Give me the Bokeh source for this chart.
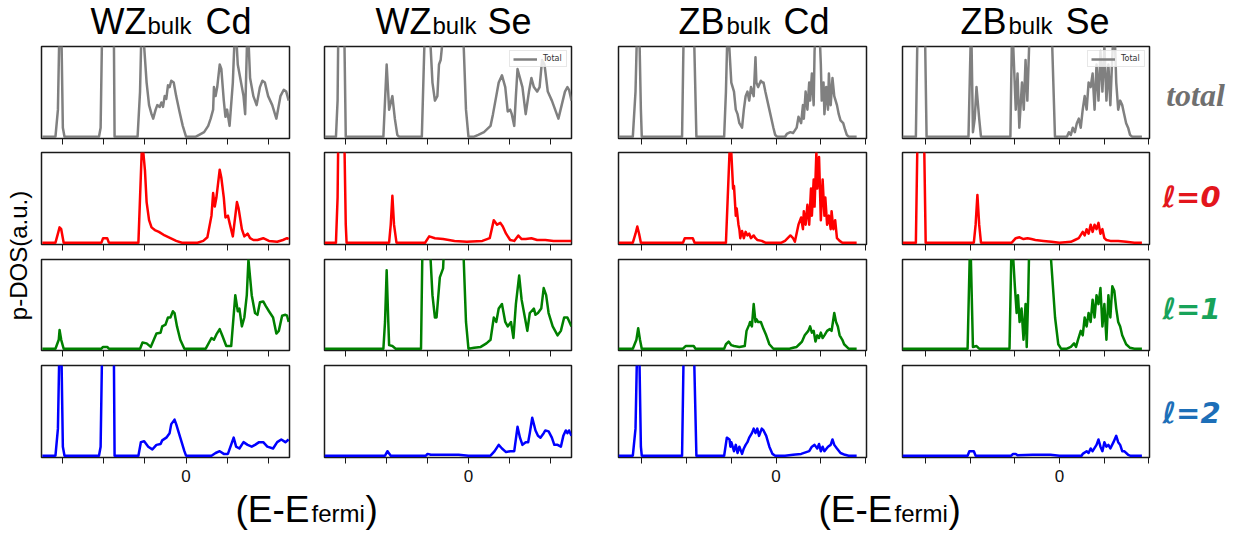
import math
from bokeh.plotting import figure
from bokeh.layouts import column, row
from bokeh.models import Range1d, FixedTicker
from bokeh.embed import file_html
from bokeh.resources import INLINE
from bokeh.core.properties import value

# ---------------- data (energy E-Efermi, p-DOS in a.u.) -------------
E_RANGE_WZ = (-17.6, 12.6)
E_RANGE_ZB = (-17.6, 10.1)
E_TICKS = [-15, -10, -5, 5, 10]
E_LABELLED_TICKS = [0]

WZ_CD_TOTAL = [(-17.5,0),(-15.9,0),(-15.6,0.3),(-15.4,1.3),(-15.2,1.3),(-15.0,0.1),(-14.8,0),(-10.6,0),(-10.4,0.1),
    (-10.2,1.3),(-8.8,1.3),(-8.7,0),(-5.9,0),(-5.6,0.5),(-5.4,1.3),(-5.1,1.0),(-4.8,0.6),(-4.5,0.35),(-4.2,0.25),
    (-4.0,0.2),(-3.7,0.3),(-3.5,0.35),(-3.2,0.33),(-3.0,0.38),(-2.8,0.33),(-2.6,0.45),(-2.4,0.42),(-2.2,0.57),
    (-2.0,0.55),(-1.8,0.62),(-1.5,0.6),(-1.2,0.45),(-0.8,0.28),(-0.4,0.12),(0,0),(1.2,0),(1.6,0.02),(2.2,0.05),
    (2.7,0.12),(3.0,0.2),(3.3,0.3),(3.4,0.55),(3.6,0.45),(3.8,0.55),(4.1,0.8),(4.3,0.75),(4.6,0.4),(4.8,0.22),
    (5.0,0.3),(5.3,0.12),(5.7,0.6),(6.0,1.3),(6.3,0.8),(6.5,0.7),(6.8,0.55),(7.0,0.45),(7.2,0.25),(7.5,1.3),
    (7.8,0.65),(8.2,0.45),(8.6,0.35),(9.0,0.55),(9.3,0.62),(9.6,0.6),(10.0,0.45),(10.5,0.35),(11.0,0.2),
    (11.5,0.45),(11.9,0.52),(12.2,0.5),(12.5,0.4)]
WZ_CD_L0 = [(-17.5,0),(-15.9,0),(-15.6,0.1),(-15.4,0.17),(-15.2,0.15),(-14.9,0),(-10.3,0),(-10.1,0.05),(-9.6,0.05),
    (-9.4,0),(-5.8,0),(-5.6,0.5),(-5.4,1.0),(-5.2,1.0),(-5.0,0.8),(-4.8,0.45),(-4.5,0.25),(-4.2,0.17),(-3.8,0.14),
    (-3.3,0.12),(-2.6,0.08),(-1.9,0.05),(-1.2,0.02),(-0.5,0),(1.4,0),(2.1,0.02),(2.6,0.06),(3.1,0.3),(3.3,0.55),
    (3.5,0.4),(3.7,0.5),(4.1,0.81),(4.3,0.72),(4.6,0.5),(4.8,0.28),(5.1,0.3),(5.3,0.22),(5.7,0.07),(6.2,0.45),
    (6.4,0.38),(6.8,0.15),(7.1,0.07),(7.5,0.1),(7.8,0.05),(8.2,0.03),(8.7,0.03),(9.4,0.05),(10.1,0.02),
    (11.1,0.01),(11.8,0.03),(12.3,0.05),(12.5,0.04)]
WZ_CD_L1 = [(-17.5,0),(-15.9,0),(-15.5,0.1),(-15.4,0.21),(-15.2,0.1),(-14.9,0),(-10.3,0),(-10.1,0.02),(-9.6,0.02),
    (-9.4,0),(-5.6,0),(-5.3,0.07),(-4.8,0.06),(-4.3,0.02),(-3.6,0.17),(-3.1,0.18),(-2.9,0.25),(-2.5,0.27),
    (-2.2,0.35),(-1.9,0.35),(-1.6,0.42),(-1.4,0.4),(-1.1,0.25),(-0.7,0.1),(-0.2,0),(2.4,0),(3.1,0.12),(3.4,0.1),
    (3.7,0.16),(4.1,0.22),(4.4,0.15),(4.9,0.03),(5.5,0.03),(6.0,0.6),(6.3,0.42),(6.5,0.45),(6.8,0.25),(7.1,0.35),
    (7.4,0.6),(7.6,1.0),(8.0,0.6),(8.4,0.4),(8.7,0.38),(9.0,0.52),(9.4,0.53),(9.7,0.48),(10.1,0.42),(10.6,0.35),
    (11.0,0.17),(11.3,0.2),(11.7,0.37),(12.1,0.38),(12.3,0.37),(12.5,0.3)]
WZ_CD_L2 = [(-17.5,0),(-15.9,0),(-15.6,0.3),(-15.4,1.3),(-15.2,1.3),(-15.0,0.1),(-14.8,0),(-10.6,0),(-10.4,0.1),
    (-10.2,1.3),(-8.8,1.3),(-8.7,0),(-5.8,0),(-5.5,0.15),(-5.1,0.16),(-4.6,0.1),(-4.1,0.07),(-3.6,0.12),
    (-3.1,0.13),(-2.9,0.17),(-2.4,0.2),(-2.0,0.25),(-1.8,0.35),(-1.4,0.4),(-1.2,0.35),(-0.7,0.2),(-0.2,0.05),
    (0,0),(3.1,0),(3.6,0.03),(4.1,0.05),(4.6,0.02),(5.1,0.02),(5.8,0.2),(6.1,0.1),(6.5,0.08),(7.0,0.15),
    (7.5,0.12),(8.0,0.1),(8.4,0.12),(8.9,0.15),(9.4,0.15),(9.9,0.1),(10.6,0.08),(11.1,0.15),(11.6,0.18),
    (12.1,0.15),(12.5,0.18)]

WZ_SE_TOTAL = [(-17.6,0),(-16.2,0),(-16.0,0.4),(-15.9,1.3),(-15.2,1.3),(-15.0,0),(-10.4,0),(-10.0,0.8),(-9.7,0.3),
    (-9.3,0.45),(-9.0,0.2),(-8.7,0.02),(-8.5,0),(-5.7,0),(-5.3,1.3),(-4.8,1.3),(-4.4,0.6),(-4.1,0.4),(-3.8,0.45),
    (-3.6,0.8),(-3.4,0.85),(-2.9,1.3),(-0.7,1.3),(-0.3,0.3),(0,0),(0.7,0),(1.2,0.02),(1.9,0.05),(2.7,0.12),
    (3.0,0.25),(3.4,0.45),(3.7,0.6),(4.1,0.68),(4.5,0.55),(4.8,0.28),(5.1,0.3),(5.3,0.25),(5.6,0.12),(5.8,0.45),
    (6.0,0.75),(6.3,0.65),(6.6,0.55),(7.0,0.25),(7.4,0.5),(7.7,0.65),(8.0,0.55),(8.4,0.5),(8.7,0.55),(9.0,0.85),
    (9.3,0.8),(9.7,0.5),(10.2,0.4),(10.6,0.3),(11.0,0.2),(11.4,0.35),(11.8,0.5),(12.1,0.55),(12.3,0.52),(12.6,0.4)]
WZ_SE_L0 = [(-17.6,0),(-16.2,0),(-16.0,0.5),(-15.9,1.3),(-15.2,1.3),(-15.0,0.2),(-14.9,0),(-9.7,0),(-9.5,0.2),
    (-9.3,0.52),(-9.1,0.2),(-8.8,0),(-5.3,0),(-4.8,0.07),(-4.1,0.05),(-3.1,0.04),(-1.7,0.02),(-0.2,0.01),
    (1.7,0.02),(2.6,0.05),(3.1,0.25),(3.5,0.2),(3.9,0.22),(4.2,0.18),(4.6,0.1),(5.1,0.03),(5.6,0.02),(6.1,0.08),
    (6.5,0.04),(7.0,0.04),(7.7,0.05),(8.4,0.03),(9.4,0.03),(10.4,0.02),(11.4,0.02),(12.6,0.02)]
WZ_SE_L1 = [(-17.6,0),(-10.4,0),(-10.2,0.3),(-10.0,0.88),(-9.8,0.3),(-9.7,0.04),(-9.3,0.03),(-8.9,0),(-5.8,0),
    (-5.6,1.3),(-4.8,1.3),(-4.4,0.6),(-4.1,0.35),(-3.9,0.35),(-3.5,0.8),(-3.1,0.9),(-2.9,1.3),(-0.7,1.3),
    (-0.3,0.3),(0,0),(0.7,0.01),(1.5,0.02),(2.2,0.06),(2.7,0.1),(3.1,0.35),(3.4,0.3),(3.7,0.45),(4.1,0.5),
    (4.5,0.3),(4.8,0.25),(5.2,0.3),(5.5,0.12),(5.8,0.5),(6.2,0.82),(6.5,0.55),(6.8,0.4),(7.2,0.2),(7.5,0.4),
    (7.7,0.42),(8.0,0.45),(8.2,0.38),(8.5,0.4),(8.9,0.45),(9.2,0.68),(9.5,0.6),(9.8,0.4),(10.3,0.25),(10.9,0.15),
    (11.3,0.2),(11.7,0.35),(12.1,0.35),(12.6,0.25)]
WZ_SE_L2 = [(-17.6,0),(-10.2,0),(-9.9,0.05),(-9.5,0),(-5.2,0),(-5.0,0.02),(-4.6,0.01),(-1.2,0.01),(0,0),(2.7,0),
    (3.2,0.05),(3.7,0.12),(4.1,0.08),(4.6,0.04),(5.1,0.05),(5.6,0.05),(6.0,0.32),(6.3,0.2),(6.6,0.12),(7.0,0.15),
    (7.3,0.15),(7.5,0.25),(7.8,0.42),(8.2,0.28),(8.5,0.22),(8.8,0.2),(9.2,0.25),(9.4,0.28),(9.8,0.27),(10.2,0.2),
    (10.5,0.12),(10.9,0.12),(11.3,0.1),(11.6,0.22),(11.9,0.28),(12.1,0.25),(12.3,0.28),(12.6,0.22)]

ZB_CD_TOTAL = [(-17.6,0),(-16.0,0),(-15.7,0.5),(-15.5,1.3),(-15.3,1.3),(-15.1,0.3),(-15.0,0),(-10.5,0),(-10.3,1.3),
    (-9.2,1.3),(-8.9,0),(-5.8,0),(-5.6,0.5),(-5.4,1.3),(-5.0,0.6),(-4.7,0.5),(-4.5,0.3),(-4.3,0.25),(-4.1,0.15),
    (-3.8,0.1),(-3.6,0.3),(-3.4,0.45),(-3.2,0.5),(-3.0,0.4),(-2.8,0.55),(-2.5,0.45),(-2.3,0.88),(-2.2,0.6),
    (-2.0,0.55),(-1.7,0.62),(-1.5,0.6),(-1.4,0.6),(-1.2,0.5),(-0.75,0.3),(-0.3,0.1),(-0.1,0.02),(0.1,0),(1.0,0),
    (1.2,0.03),(1.6,0.05),(1.9,0.04),(2.3,0.1),(2.5,0.22),(2.8,0.15),(3.0,0.35),(3.1,0.2),(3.3,0.5),(3.5,0.3),
    (3.7,0.6),(3.8,0.4),(4.0,0.7),(4.2,0.35),(4.3,0.95),(4.5,1.3),(4.8,1.3),(5.0,0.8),(5.1,0.4),(5.3,0.6),
    (5.4,0.25),(5.6,0.55),(5.8,0.3),(5.9,0.7),(6.1,0.35),(6.3,0.65),(6.5,0.45),(6.8,0.35),(7.0,0.25),(7.2,0.18),
    (7.5,0.15),(7.7,0.08),(7.9,0.02),(8.1,0),(9.0,0)]
ZB_CD_L0 = [(-17.6,0),(-16.0,0),(-15.7,0.1),(-15.5,0.18),(-15.3,0.1),(-15.1,0),(-10.4,0),(-10.2,0.05),(-9.3,0.05),
    (-9.1,0),(-5.6,0),(-5.4,0.5),(-5.2,1.0),(-5.0,1.0),(-4.8,0.6),(-4.7,0.63),(-4.5,0.3),(-4.4,0.38),(-4.2,0.2),
    (-4.1,0.15),(-4.0,0.05),(-3.8,0.13),(-3.6,0.05),(-3.4,0.12),(-3.2,0.08),(-3.0,0.1),(-2.8,0.05),(-2.5,0.08),
    (-2.3,0.05),(-2.1,0.03),(-1.6,0.02),(-1.2,0),(0.6,0),(1.0,0.02),(1.6,0.08),(1.9,0.05),(2.1,0.01),(2.5,0.2),
    (2.8,0.28),(3.0,0.15),(3.1,0.35),(3.3,0.2),(3.5,0.42),(3.7,0.2),(3.9,0.6),(4.0,0.3),(4.2,0.7),(4.3,0.4),
    (4.5,1.0),(4.6,0.6),(4.8,0.95),(5.0,0.25),(5.2,0.7),(5.4,0.3),(5.5,0.5),(5.7,0.2),(5.9,0.3),(6.1,0.15),
    (6.2,0.35),(6.4,0.15),(6.6,0.25),(6.8,0.05),(7.1,0.02),(7.4,0),(9.0,0)]
ZB_CD_L1 = [(-17.6,0),(-16.0,0),(-15.6,0.1),(-15.4,0.23),(-15.2,0.1),(-15.0,0),(-10.4,0),(-10.1,0.03),(-9.2,0.03),
    (-9.0,0),(-5.8,0),(-5.6,0.05),(-5.3,0.08),(-5.0,0.04),(-4.7,0.03),(-4.1,0.02),(-3.5,0.03),(-3.3,0.2),
    (-3.0,0.27),(-2.9,0.3),(-2.7,0.25),(-2.5,0.5),(-2.3,0.3),(-2.2,0.33),(-2.0,0.3),(-1.7,0.3),(-1.4,0.22),
    (-1.1,0.15),(-0.75,0.05),(-0.3,0),(1.5,0),(1.9,0.01),(2.3,0.02),(2.6,0.05),(2.9,0.08),(3.2,0.15),(3.6,0.2),
    (3.8,0.25),(4.0,0.18),(4.2,0.2),(4.4,0.08),(4.6,0.15),(4.8,0.12),(5.0,0.18),(5.2,0.12),(5.4,0.15),(5.7,0.2),
    (6.0,0.22),(6.2,0.2),(6.5,0.4),(6.7,0.3),(6.9,0.25),(7.1,0.15),(7.4,0.1),(7.6,0.05),(7.9,0.02),(8.1,0),(9.0,0)]
ZB_CD_L2 = [(-17.6,0),(-16.0,0),(-15.7,0.3),(-15.5,1.3),(-15.3,1.3),(-15.1,0.1),(-15.0,0),(-10.5,0),(-10.3,1.3),
    (-9.2,1.3),(-8.9,0),(-5.8,0),(-5.5,0.2),(-5.2,0.18),(-5.1,0.1),(-5.0,0.15),(-4.7,0.05),(-4.5,0.12),(-4.3,0.03),
    (-4.1,0.1),(-3.8,0.02),(-3.6,0.08),(-3.4,0.12),(-3.2,0.15),(-3.0,0.2),(-2.7,0.25),(-2.5,0.3),(-2.3,0.25),
    (-2.1,0.3),(-1.9,0.22),(-1.6,0.3),(-1.4,0.28),(-1.1,0.22),(-0.75,0.1),(-0.4,0.02),(-0.1,0),(1.0,0),(1.9,0.01),
    (2.8,0.02),(3.7,0.05),(4.0,0.1),(4.3,0.12),(4.6,0.08),(4.8,0.13),(5.0,0.05),(5.2,0.1),(5.4,0.05),(5.8,0.1),
    (6.1,0.12),(6.3,0.18),(6.5,0.12),(6.8,0.08),(7.2,0.03),(7.7,0.01),(8.1,0),(9.0,0)]

ZB_SE_TOTAL = [(-17.6,0),(-16.1,0),(-15.9,1.3),(-15.1,1.3),(-14.9,0),(-10.2,0),(-9.9,1.3),(-9.7,0.05),(-9.5,0.2),
    (-9.3,0.55),(-9.0,0.2),(-8.8,0),(-5.5,0),(-5.3,1.3),(-4.9,0.3),(-4.7,0.7),(-4.5,0.1),(-4.2,0.6),(-4.0,0.3),
    (-3.8,0.85),(-3.6,0.4),(-3.3,1.3),(-0.9,1.3),(-0.5,0),(0.84,0),(1.06,0.05),(1.28,0.02),(1.5,0.1),(1.73,0.05),
    (1.95,0.15),(2.17,0.2),(2.39,0.1),(2.61,0.3),(2.83,0.45),(3.05,0.3),(3.27,0.6),(3.5,0.55),(3.72,0.7),
    (3.94,0.3),(4.16,0.8),(4.38,0.4),(4.6,0.95),(4.82,0.5),(5.04,1.0),(5.27,0.4),(5.49,0.8),(5.71,0.35),
    (5.93,0.9),(6.15,1.3),(6.37,0.6),(6.59,0.3),(6.81,0.4),(7.04,0.35),(7.26,0.25),(7.48,0.15),(7.7,0.1),
    (7.92,0.02),(8.14,0),(9.25,0)]
ZB_SE_L0 = [(-17.6,0),(-16.1,0),(-15.9,1.3),(-15.2,1.3),(-15.0,0),(-9.6,0),(-9.4,0.2),(-9.2,0.53),(-9.0,0.2),
    (-8.8,0),(-5.35,0),(-4.9,0.05),(-4.47,0.06),(-4.03,0.04),(-3.58,0.05),(-3.14,0.04),(-2.7,0.03),(-1.8,0.02),
    (-0.9,0.01),(0,0),(1.28,0.01),(1.73,0.03),(2.17,0.05),(2.61,0.12),(2.83,0.08),(3.05,0.15),(3.27,0.1),
    (3.5,0.2),(3.72,0.12),(3.94,0.2),(4.16,0.15),(4.38,0.22),(4.6,0.1),(4.82,0.15),(5.04,0.05),(5.27,0.03),
    (5.71,0.02),(6.59,0.02),(7.48,0.01),(8.4,0),(9.25,0)]
ZB_SE_L1 = [(-17.6,0),(-10.3,0),(-10.0,1.3),(-9.7,0.02),(-9.3,0.03),(-9.0,0),(-5.6,0),(-5.35,1.3),(-5.0,0.7),
    (-4.8,0.4),(-4.65,0.6),(-4.47,0.3),(-4.25,0.45),(-4.03,0.1),(-3.8,0.5),(-3.67,0.02),(-3.5,0.6),(-3.36,1.3),
    (-1.15,1.3),(-0.49,0.35),(-0.13,0.05),(0.18,0),(0.84,0),(1.28,0.02),(1.64,0.06),(1.86,0.02),(2.08,0.1),
    (2.39,0.2),(2.61,0.15),(2.83,0.35),(3.05,0.25),(3.27,0.4),(3.5,0.3),(3.72,0.55),(3.94,0.35),(4.16,0.6),
    (4.38,0.5),(4.6,0.68),(4.82,0.25),(5.04,0.5),(5.27,0.1),(5.49,0.6),(5.71,0.35),(5.93,0.7),(6.15,0.65),
    (6.37,0.45),(6.59,0.3),(6.81,0.25),(7.04,0.15),(7.26,0.1),(7.48,0.05),(7.92,0.01),(8.4,0),(9.25,0)]
ZB_SE_L2 = [(-17.6,0),(-10.3,0),(-10.1,0.05),(-9.6,0.05),(-9.4,0),(-5.4,0),(-5.2,0.02),(-4.9,0.02),(-4.7,0.005),
    (-3.0,0.01),(-1.0,0.01),(0,0),(2.5,0),(2.61,0.02),(3.05,0.05),(3.27,0.03),(3.5,0.08),(3.72,0.05),(4.16,0.12),
    (4.38,0.18),(4.6,0.1),(4.82,0.05),(5.04,0.15),(5.27,0.1),(5.49,0.12),(5.71,0.08),(6.06,0.15),(6.37,0.22),
    (6.59,0.15),(6.81,0.12),(7.04,0.05),(7.26,0.05),(7.7,0.01),(7.92,0),(9.25,0)]

COLUMN_MAIN = ["WZ", "WZ", "ZB", "ZB"]
COLUMN_SUB = "bulk"
COLUMN_ATOM = ["Cd", "Se", "Cd", "Se"]
COLUMN_RANGES = [E_RANGE_WZ, E_RANGE_WZ, E_RANGE_ZB, E_RANGE_ZB]
ROW_LABELS = ["total", "\u2113=0", "\u2113=1", "\u2113=2"]
ROW_LABEL_COLORS = ["#707070", "#e3161c", "#18a35a", "#1d6fb8"]
ROW_LINE_COLORS = ["#808080", "#ff0000", "#008000", "#0000ff"]
DATA = [
    [WZ_CD_TOTAL, WZ_SE_TOTAL, ZB_CD_TOTAL, ZB_SE_TOTAL],
    [WZ_CD_L0, WZ_SE_L0, ZB_CD_L0, ZB_SE_L0],
    [WZ_CD_L1, WZ_SE_L1, ZB_CD_L1, ZB_SE_L1],
    [WZ_CD_L2, WZ_SE_L2, ZB_CD_L2, ZB_SE_L2],
]
LEGEND_PANELS = [(0, 1), (0, 3)]
Y_LABEL = "p-DOS(a.u.)"
X_LABEL_MAIN = "(E-E"
X_LABEL_SUB = "fermi"
X_LABEL_END = ")"

# ---------------- layout (pixels) ----------------
W, H = 1240, 538
TITLE_H = 44
COL_W = [267, 288, 290, 267]
COL_L = [2, 18, 24, 18]
COL_R = [17, 23, 18, 2]
ROW_H = [106, 107, 106, 125]
ROW_B = [12, 13, 13, 31]
LEFT_W = 39
RIGHT_W = 89
MID_H = sum(ROW_H)
XLAB_H = H - TITLE_H - MID_H

SANS = "Liberation Sans"
MID_SHIFT = 0.3465   # distance (in em) between the alphabetic baseline and the em-box middle


def text_fig(w, h):
    p = figure(width=w, height=h, x_range=Range1d(0, w), y_range=Range1d(0, h),
               x_axis_location=None, y_axis_location=None, toolbar_location=None,
               output_backend="svg", min_border=0)
    p.outline_line_color = None
    p.background_fill_color = "white"
    p.border_fill_color = "white"
    p.grid.visible = False
    return p


def add_text(p, x, y, t, size, color="black", font=SANS, style="normal", align="left", angle=0.0):
    p.text(x=[x], y=[y], text=[t], text_font=value(font), text_font_size=value(f"{size}px"),
           text_font_style=style, text_color=color, text_align=align, text_baseline="middle",
           angle=angle)


def add_text_on_baseline(p, fig_h, x, base_from_top, t, size, **kw):
    mid_from_top = base_from_top - MID_SHIFT * size
    add_text(p, x, fig_h - mid_from_top, t, size, **kw)


# titles
title_fig = text_fig(W, TITLE_H)
title_main_x = [90, 375, 678, 960]
title_sub_x = [147, 432, 726, 1008]
title_atom_x = [205, 487, 783, 1065]
for c in range(4):
    add_text_on_baseline(title_fig, TITLE_H, title_main_x[c], 33, COLUMN_MAIN[c], 36)
    add_text_on_baseline(title_fig, TITLE_H, title_sub_x[c], 33, COLUMN_SUB, 24)
    add_text_on_baseline(title_fig, TITLE_H, title_atom_x[c], 33, COLUMN_ATOM[c], 36)

# y label
left_fig = text_fig(LEFT_W, MID_H)
add_text(left_fig, 18, MID_H - 211, Y_LABEL, 24, align="center", angle=math.pi / 2)

# row labels
right_fig = text_fig(RIGHT_W, MID_H)
right_y = [50, 152, 264, 368]
right_x = [44, 40, 40, 40]
for r in range(4):
    if r == 0:
        add_text(right_fig, right_x[r], MID_H - right_y[r], ROW_LABELS[r], 32, color=ROW_LABEL_COLORS[r],
                 font="Liberation Serif", style="bold italic", align="center")
    else:
        add_text(right_fig, right_x[r], MID_H - right_y[r], ROW_LABELS[r], 29, color=ROW_LABEL_COLORS[r],
                 font="DejaVu Sans", style="bold italic", align="center")

# x labels
xlab_fig = text_fig(W, XLAB_H)
for x0 in [235, 818]:
    add_text_on_baseline(xlab_fig, XLAB_H, x0, 33.5, X_LABEL_MAIN, 37)
    add_text_on_baseline(xlab_fig, XLAB_H, x0 + 76, 33.5, X_LABEL_SUB, 24)
    add_text_on_baseline(xlab_fig, XLAB_H, x0 + 130, 33.5, X_LABEL_END, 37)

# panels
grid_rows = []
for r in range(4):
    figs = []
    for c in range(4):
        p = figure(width=COL_W[c], height=ROW_H[r], x_range=Range1d(*COLUMN_RANGES[c]),
                   y_range=Range1d(-0.02, 1.0), y_axis_location=None, toolbar_location=None,
                   output_backend="svg", min_border_left=COL_L[c], min_border_right=COL_R[c],
                   min_border_top=2, min_border_bottom=ROW_B[r])
        p.background_fill_color = "white"
        p.border_fill_color = "white"
        p.outline_line_color = "#1a1a1a"
        p.outline_line_width = 1.5
        p.grid.visible = False
        pts = DATA[r][c]
        xs = [e for e, _ in pts]
        ys = [d for _, d in pts]
        kw = {}
        if (r, c) in LEGEND_PANELS:
            kw["legend_label"] = "Total"
        p.line(xs, ys, line_color=ROW_LINE_COLORS[r], line_width=2.5, line_join="round", **kw)
        ax = p.xaxis[0]
        if r == 3:
            ax.ticker = FixedTicker(ticks=E_LABELLED_TICKS, minor_ticks=E_TICKS)
            ax.major_label_text_font = SANS
            ax.major_label_text_font_size = "17px"
            ax.major_label_text_color = "#111111"
            ax.major_label_standoff = 6
        else:
            ax.ticker = FixedTicker(ticks=[], minor_ticks=E_TICKS + E_LABELLED_TICKS)
            ax.major_label_standoff = 0
        ax.axis_line_color = None
        ax.major_tick_in = 0
        ax.major_tick_out = 6
        ax.minor_tick_in = 0
        ax.minor_tick_out = 6
        ax.major_tick_line_color = "#1a1a1a"
        ax.minor_tick_line_color = "#1a1a1a"
        ax.major_tick_line_width = 1
        ax.minor_tick_line_width = 1
        if (r, c) in LEGEND_PANELS:
            lg = p.legend[0]
            lg.location = "top_right"
            lg.label_text_font = "DejaVu Sans"
            lg.label_text_font_size = "8px"
            lg.label_text_color = "#333333"
            lg.glyph_width = 24
            lg.glyph_height = 8
            lg.label_standoff = 6
            lg.label_height = 8
            lg.padding = 3
            lg.spacing = 0
            lg.margin = 4
            lg.border_line_color = "#d0d0d0"
            lg.background_fill_alpha = 0.8
        figs.append(p)
    grid_rows.append(row(*figs))

grid = column(*grid_rows)
middle = row(left_fig, grid, right_fig)
layout = column(title_fig, middle, xlab_fig)

open("out.html", "w").write(file_html(layout, INLINE))
